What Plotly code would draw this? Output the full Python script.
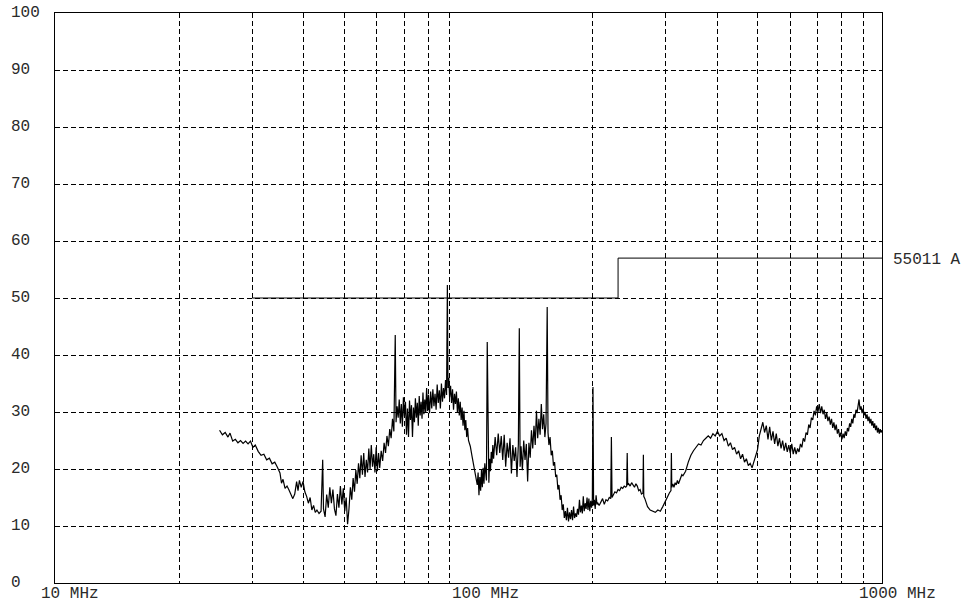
import math
import plotly.graph_objects as go

# ---- data -------------------------------------------------------------
freq_mhz = [
    25.0, 25.4, 25.8, 26.2, 26.5, 26.9, 27.3, 27.7, 28.1, 28.5,
    28.9, 29.3, 29.7, 30.1, 30.5, 31.0, 31.5, 32.0, 32.5, 33.0,
    33.5, 34.0, 34.5, 35.0, 35.3, 35.6, 36.0, 36.4, 36.8, 37.2,
    37.6, 38.0, 38.4, 38.7, 39.0, 39.4, 39.8, 40.2, 40.6, 41.0,
    41.4, 41.8, 42.2, 42.6, 43.0, 43.5, 44.0, 44.4, 44.6, 45.0,
    45.4, 45.8, 46.2, 46.6, 47.0, 47.4, 47.8, 48.2, 48.6, 49.0,
    49.4, 49.8, 50.2, 50.6, 51.0, 51.4, 51.8, 52.2, 52.6, 53.0,
    53.4, 53.8, 54.2, 54.6, 55.0, 55.4, 55.8, 56.2, 56.6, 57.0,
    57.4, 57.8, 58.2, 58.6, 59.0, 59.4, 59.8, 60.2, 60.6, 61.0,
    61.5, 62.0, 62.5, 63.0, 63.5, 64.0, 64.5, 65.0, 65.5, 66.0,
    66.5, 66.8, 67.2, 67.6, 68.0, 68.4, 68.8, 69.2, 69.6, 70.0,
    70.4, 70.8, 71.2, 71.6, 72.0, 72.4, 72.8, 73.2, 73.6, 74.0,
    74.4, 74.8, 75.2, 75.6, 76.0, 76.4, 76.8, 77.2, 77.6, 78.0,
    78.4, 78.8, 79.2, 79.6, 80.0, 80.5, 81.0, 81.5, 82.0, 82.5,
    83.0, 83.5, 84.0, 84.5, 85.0, 85.5, 86.0, 86.5, 87.0, 87.5,
    88.0, 88.5, 88.9, 89.2, 89.6, 90.0, 90.5, 91.0, 91.5, 92.0,
    92.5, 93.0, 93.5, 94.0, 94.5, 95.0, 95.5, 96.0, 96.5, 97.0,
    97.5, 98.0, 98.5, 99.0, 99.5, 100.0, 101.0, 102.0, 103.0, 104.0,
    105.0, 105.5, 106.0, 106.5, 107.0, 107.5, 108.0, 108.5, 109.0, 109.5,
    110.0, 110.5, 111.0, 111.5, 112.0, 112.5, 113.0, 113.5, 114.0, 114.5,
    115, 116, 117, 118, 119, 120, 121, 122, 123, 124,
    125, 126, 127, 128, 129, 130, 131, 132, 132.7, 133.3,
    134, 135, 136, 137, 138, 139, 140, 141, 142, 143,
    144, 145, 146, 147, 148, 149, 150, 151, 152, 153,
    154, 155, 155.7, 156.5, 157.5, 158.5, 159.5, 160.5, 161.5, 162.5,
    163.5, 164.5, 165.5, 166.5, 167.5, 168.5, 169.5, 170.5, 171.5, 172.5,
    173.5, 174.5, 175.5, 176.5, 177.5, 178.5, 179.5, 180.5, 181.5, 182.5,
    183.5, 184.5, 185.5, 186.5, 187.5, 188.5, 189.5, 190.5, 191.5, 192.5,
    193.5, 194.5, 195.5, 196.5, 197.5, 198.5, 199.3, 200.0, 200.7, 201.5,
    202.5, 203.5, 204.5, 205.5, 207, 209, 211, 213, 215, 217,
    219, 220.8, 221.6, 222.4, 224, 226, 228, 230, 232, 234,
    236, 238, 240, 241.3, 242, 242.7, 244, 246, 248, 250,
    252, 254, 256, 258, 260, 262, 264.2, 264.8, 265.4, 267,
    269, 271, 275, 279, 283, 287, 291, 295, 299, 303,
    306, 308.8, 309.5, 310.2, 312, 314, 316, 318, 320, 322,
    325, 328, 330, 335, 340, 345, 350, 355, 360, 365,
    370, 375, 380, 385, 390, 395, 400, 405, 410, 415,
    420, 425, 430, 435, 440, 445, 450, 455, 460, 465,
    470, 475, 480, 485, 490, 495, 500, 505, 510, 515,
    520, 525, 530, 535, 540, 545, 550, 555, 560, 565,
    570, 575, 580, 585, 590, 595, 600, 605, 610, 615,
    620, 625, 630, 635, 640, 645, 650, 655, 660, 665,
    670, 675, 680, 685, 690, 695, 700, 705, 710, 715,
    720, 725, 730, 735, 740, 745, 750, 755, 760, 765,
    770, 775, 780, 785, 790, 795, 800, 805, 810, 815,
    820, 825, 830, 835, 840, 845, 850, 855, 860, 865,
    870, 875, 880, 885, 890, 895, 900, 905, 910, 915,
    920, 925, 930, 935, 940, 945, 950, 955, 960, 965,
    970, 975, 980, 985, 990, 995, 1000,
]

level_dbuv = [
    26.8, 26.0, 26.4, 25.6, 26.3, 24.9, 25.2, 24.6, 25.0, 24.5,
    24.9, 24.4, 24.9, 23.8, 24.2, 23.1, 22.4, 22.6, 21.6, 21.9,
    20.9, 21.2, 20.3, 19.3, 17.5, 18.2, 16.6, 17.0, 16.3, 15.4,
    14.8, 15.6, 17.8, 16.2, 18.0, 16.8, 17.8, 16.0, 15.2, 14.0,
    15.0, 12.8, 13.6, 12.4, 12.8, 12.2, 12.6, 21.6, 13.0, 11.6,
    15.5, 13.2, 16.8, 14.0, 16.4, 13.0, 11.8, 15.6, 13.2, 17.0,
    13.8, 16.6, 12.6, 15.0, 10.3, 13.0, 16.8, 14.6, 18.4, 16.0,
    19.8, 17.4, 21.0, 18.4, 22.4, 19.0, 22.8, 18.6, 21.6, 19.4,
    23.6, 20.0, 24.2, 20.4, 22.6, 19.4, 23.8, 19.6, 22.8, 20.2,
    23.2, 21.4, 24.6, 22.8, 25.8, 24.0, 27.0, 25.4, 28.8, 26.6,
    43.5, 28.2, 31.0, 29.0, 32.2, 28.0, 31.4, 27.4, 32.6, 29.2,
    31.8, 26.0, 30.6, 25.6, 32.0, 28.6, 31.2, 25.6, 30.8, 28.2,
    32.4, 29.0, 31.6, 27.6, 32.8, 29.4, 31.8, 28.8, 33.4, 29.6,
    32.2, 30.0, 34.2, 30.2, 33.0, 29.8, 33.6, 30.6, 34.0, 31.0,
    33.2, 30.4, 34.8, 31.6, 33.8, 30.6, 35.0, 31.8, 34.2, 32.4,
    35.6, 33.0, 52.3, 34.2, 36.0, 32.6, 34.6, 31.6, 34.0, 30.4,
    33.2, 31.4, 33.6, 30.0, 32.4, 29.4, 31.8, 28.6, 30.8, 27.6,
    30.2, 26.8, 28.6, 25.6, 27.2, 25.0, 24.0, 22.2, 20.6, 19.0,
    17.2, 19.4, 15.4, 18.6, 16.2, 19.8, 16.8, 20.2, 17.4, 21.0,
    19.0, 18.0, 42.3, 20.6, 17.6, 21.8, 19.6, 23.0, 21.0, 24.2,
    21.8, 25.6, 22.4, 26.2, 22.8, 25.8, 21.6, 26.0, 20.4, 24.6,
    22.0, 25.4, 19.2, 24.2, 21.4, 23.8, 18.6, 24.4, 44.7, 20.4,
    24.0, 19.8, 25.0, 21.6, 24.4, 17.8, 24.6, 22.0, 26.8, 23.6,
    27.6, 24.2, 30.2, 25.4, 28.8, 26.0, 31.4, 27.0, 29.6, 25.6,
    28.0, 48.4, 26.4, 24.2, 25.6, 22.4, 23.2, 20.6, 21.2, 18.6,
    19.0, 16.4, 17.2, 14.6, 15.4, 12.8, 13.8, 11.4, 12.6, 11.0,
    13.2, 10.8, 12.4, 11.2, 12.8, 11.0, 13.4, 11.4, 12.2, 11.6,
    13.0, 12.0, 14.6, 12.4, 13.6, 12.2, 15.2, 12.6, 14.0, 13.0,
    15.0, 12.8, 14.8, 12.6, 14.4, 13.2, 14.8, 34.4, 13.6, 14.6,
    13.0, 15.4, 13.8, 14.0, 13.6, 14.2, 14.8, 13.8, 14.6, 14.4,
    15.0, 14.8, 25.6, 15.0, 15.4, 16.0, 15.8, 16.4, 16.2, 16.8,
    16.6, 17.0, 16.8, 17.0, 22.8, 17.2, 17.4, 17.0, 17.6, 17.2,
    16.8, 17.4, 17.0, 16.2, 16.4, 15.6, 15.8, 22.5, 15.2, 14.8,
    14.2, 13.4, 12.8, 12.6, 12.4, 12.8, 12.6, 13.4, 14.4, 15.2,
    15.8, 16.2, 22.8, 16.8, 17.4, 16.8, 17.6, 17.2, 18.0, 17.4,
    18.2, 19.0, 18.8, 19.6, 21.2, 22.4, 23.2, 23.8, 24.4, 24.2,
    25.0, 25.4, 25.8, 25.4, 26.2, 25.8, 26.6, 25.8, 26.2, 25.0,
    25.4, 24.0, 24.6, 23.4, 23.8, 22.6, 23.2, 21.8, 22.6, 21.2,
    21.8, 20.6, 21.0, 20.2, 21.4, 22.6, 23.4, 25.8, 27.0, 28.2,
    26.4, 27.6, 25.2, 27.4, 25.0, 26.6, 24.4, 26.2, 24.0, 25.4,
    23.6, 25.0, 23.2, 24.6, 23.0, 24.2, 22.8, 24.4, 22.6, 23.8,
    22.6, 23.6, 23.0, 24.4, 23.8, 25.4, 24.8, 26.4, 26.0, 27.8,
    27.2, 29.0, 28.6, 30.2, 29.4, 31.0, 30.0, 31.4, 29.8, 31.0,
    29.6, 30.4, 28.8, 29.8, 28.4, 29.2, 27.8, 28.8, 27.2, 28.2,
    26.8, 27.8, 26.2, 27.0, 25.6, 26.4, 25.2, 26.2, 25.4, 26.6,
    25.8, 27.2, 26.6, 28.0, 27.4, 28.8, 28.0, 29.6, 29.0, 30.4,
    29.8, 31.2, 32.2, 30.4, 31.0, 29.8, 30.6, 29.4, 30.0, 28.8,
    29.6, 28.4, 29.2, 28.0, 28.8, 27.6, 28.4, 27.2, 28.0, 26.8,
    27.6, 26.4, 27.2, 26.2, 27.0, 26.4, 26.8,
]

limit_freq = [30, 230, 230, 1000]
limit_level = [50, 50, 57, 57]
limit_name = "55011 A"

y_tick_values = [0, 10, 20, 30, 40, 50, 60, 70, 80, 90, 100]
x_label_values = [10, 100, 1000]
x_label_texts = ["10 MHz", "100 MHz", "1000 MHz"]
x_grid_values = [20, 30, 40, 50, 60, 70, 80, 90,
                 200, 300, 400, 500, 600, 700, 800, 900]
y_grid_values = [10, 20, 30, 40, 50, 60, 70, 80, 90]

FONT = "Liberation Mono, Courier New, monospace"
TXT = "#2a2a2a"

fig = go.Figure()
fig.add_trace(go.Scatter(x=freq_mhz, y=level_dbuv, mode="lines",
                         line=dict(color="black", width=1.2), showlegend=False,
                         hoverinfo="skip"))
fig.add_trace(go.Scatter(x=limit_freq, y=limit_level, mode="lines",
                         line=dict(color="black", width=1), showlegend=False,
                         hoverinfo="skip"))

annotations = []
for v in y_tick_values:
    annotations.append(dict(x=0, xref="paper", y=v, yref="y", text=str(v),
                            xanchor="left", yanchor="middle", xshift=-46,
                            showarrow=False, font=dict(family=FONT, size=16, color=TXT)))
shifts = [-16, -19, -25]
for v, t, s in zip(x_label_values, x_label_texts, shifts):
    annotations.append(dict(x=math.log10(v), xref="x", y=0, yref="paper", text=t,
                            xanchor="left", yanchor="top", xshift=s, yshift=0,
                            showarrow=False, font=dict(family=FONT, size=16, color=TXT)))
annotations.append(dict(x=1, xref="paper", y=limit_level[-1], yref="y", text=limit_name,
                        xanchor="left", yanchor="middle", xshift=9, yshift=-2,
                        showarrow=False, font=dict(family=FONT, size=16, color=TXT)))

fig.update_layout(
    width=979, height=610,
    margin=dict(l=55, r=97, t=13, b=27),
    paper_bgcolor="white", plot_bgcolor="white",
    font=dict(family=FONT, size=16, color=TXT),
    annotations=annotations,
    xaxis=dict(type="log", range=[1, 3], tickmode="array", tickvals=x_grid_values,
               showticklabels=False, ticks="", showgrid=True, gridcolor="black",
               gridwidth=1, griddash="5px,3px", zeroline=False,
               showline=True, linecolor="black", linewidth=1, mirror=True),
    yaxis=dict(range=[0, 100], tickmode="array", tickvals=y_grid_values,
               showticklabels=False, ticks="", showgrid=True, gridcolor="black",
               gridwidth=1, griddash="5px,3px", zeroline=False,
               showline=True, linecolor="black", linewidth=1, mirror=True),
)

fig.write_html("out.html",
               config={"displayModeBar": False},
               post_script="document.body.style.margin='0';"
                           "document.body.style.overflow='hidden';")
